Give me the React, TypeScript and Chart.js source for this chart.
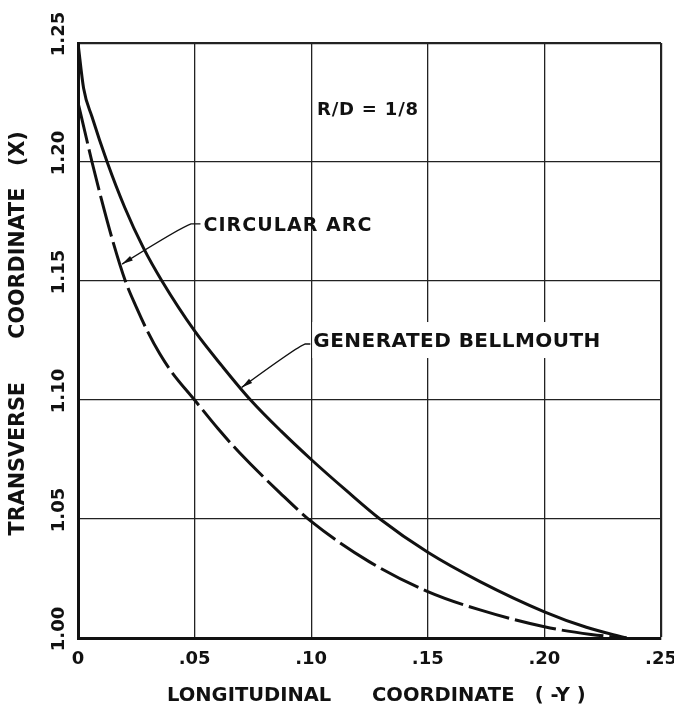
import React, { useEffect, useRef } from "react";
import { Chart, registerables } from "chart.js";

Chart.register(...registerables);

// ---------- data ----------
const xTickValues = [0, 0.05, 0.1, 0.15, 0.2, 0.25];
const xTickLabels = ["0", ".05", ".10", ".15", ".20", ".25"];
const yTickValues = [1.0, 1.05, 1.1, 1.15, 1.2, 1.25];
const yTickLabels = ["1.00", "1.05", "1.10", "1.15", "1.20", "1.25"];

// Generated bellmouth (solid)
const bellmouthX = [0, 0.0024, 0.006, 0.0125, 0.02, 0.028, 0.036, 0.05, 0.062, 0.074, 0.087, 0.1, 0.115, 0.1295, 0.15, 0.1724, 0.2, 0.218, 0.2353];
const bellmouthY = [1.25, 1.231, 1.219, 1.2, 1.181, 1.164, 1.15, 1.129, 1.114, 1.1, 1.087, 1.075, 1.062, 1.05, 1.036, 1.0237, 1.011, 1.0045, 1.0];

// Circular arc (dashed)
const arcX = [0, 0.003, 0.006, 0.01, 0.015, 0.0203, 0.025, 0.03, 0.035, 0.04, 0.05, 0.06, 0.0695, 0.0866, 0.1, 0.125, 0.15, 0.1724, 0.2, 0.22, 0.235];
const arcY = [1.225, 1.2125, 1.2, 1.1845, 1.1665, 1.15, 1.139, 1.1285, 1.1195, 1.112, 1.1, 1.088, 1.0776, 1.061, 1.049, 1.032, 1.0195, 1.0118, 1.0047, 1.0015, 1.0];

const xTitle = "  LONGITUDINAL      COORDINATE   ( -Y )";
const yTitle = "  TRANSVERSE      COORDINATE   (X)";
const ratioLabel = "R/D = 1/8";
const arcLabel = "CIRCULAR ARC";
const bellLabel = "GENERATED BELLMOUTH";

// ---------- styling / annotation placement ----------
const FONT = '"DejaVu Sans", sans-serif';
const INK = "#111111";

const annotationPlacement = {
  ratio: { x: 0.1025, y: 1.2225, size: 18, width: 101 },
  arc: { x: 0.0538, y: 1.1738, size: 19, width: 168, elbow: [0.0485, 1.174], tip: [0.0189, 1.1571] },
  bell: { x: 0.1009, y: 1.1252, size: 20, width: 287, elbow: [0.0973, 1.1235], tip: [0.0702, 1.1053] },
};

function drawLabel(ctx: CanvasRenderingContext2D, text: string, left: number, cy: number, size: number, target: number) {
  ctx.font = `bold ${size}px ${FONT}`;
  (ctx as any).letterSpacing = "0px";
  const natural = ctx.measureText(text).width;
  const sp = text.length > 1 ? (target - natural) / (text.length - 1) : 0;
  (ctx as any).letterSpacing = `${sp}px`;
  ctx.textAlign = "left";
  ctx.textBaseline = "alphabetic";
  ctx.fillText(text, left, cy + (size * 0.729) / 2);
  (ctx as any).letterSpacing = "0px";
}

function drawLeader(ctx: CanvasRenderingContext2D, sx: number, sy: number, ex: number, ey: number, tx: number, ty: number) {
  ctx.beginPath();
  ctx.moveTo(sx, sy);
  ctx.lineTo(ex, ey);
  const cx = ex - (ex - tx) * 0.12;
  const cy = ey + (ty - ey) * 0.06;
  ctx.quadraticCurveTo(cx, cy, tx, ty);
  ctx.lineWidth = 1.4;
  ctx.stroke();
  // arrowhead
  const ang = Math.atan2(ty - cy, tx - cx);
  const len = 11;
  const hw = 2.6;
  const bx = tx - Math.cos(ang) * len;
  const by = ty - Math.sin(ang) * len;
  ctx.beginPath();
  ctx.moveTo(tx, ty);
  ctx.lineTo(bx - Math.sin(ang) * hw, by + Math.cos(ang) * hw);
  ctx.lineTo(bx + Math.sin(ang) * hw, by - Math.cos(ang) * hw);
  ctx.closePath();
  ctx.fill();
}

const annotationPlugin = {
  id: "bellmouthAnnotations",
  afterDatasetsDraw(chart: any) {
    const ctx: CanvasRenderingContext2D = chart.ctx;
    const xs = chart.scales.x;
    const ys = chart.scales.y;
    const px = (v: number) => xs.getPixelForValue(v);
    const py = (v: number) => ys.getPixelForValue(v);
    const a = annotationPlacement;
    ctx.save();
    ctx.strokeStyle = INK;

    // white break in the grid behind the bellmouth label
    ctx.fillStyle = "#ffffff";
    ctx.fillRect(px(a.bell.x) - 1, py(a.bell.y) - 18, a.bell.width + 6, 36);
    ctx.fillStyle = INK;

    drawLabel(ctx, ratioLabel, px(a.ratio.x), py(a.ratio.y), a.ratio.size, a.ratio.width);
    drawLabel(ctx, arcLabel, px(a.arc.x), py(a.arc.y), a.arc.size, a.arc.width);
    drawLabel(ctx, bellLabel, px(a.bell.x), py(a.bell.y), a.bell.size, a.bell.width);

    drawLeader(ctx, px(a.arc.x) - 3, py(a.arc.elbow[1]), px(a.arc.elbow[0]), py(a.arc.elbow[1]), px(a.arc.tip[0]), py(a.arc.tip[1]));
    drawLeader(ctx, px(a.bell.x) - 3, py(a.bell.elbow[1]), px(a.bell.elbow[0]), py(a.bell.elbow[1]), px(a.bell.tip[0]), py(a.bell.tip[1]));
    ctx.restore();
  },
};

export default function App() {
  const canvasRef = useRef<HTMLCanvasElement | null>(null);

  useEffect(() => {
    document.body.style.margin = "0";
    const canvas = canvasRef.current;
    if (!canvas) return;

    const chart = new Chart(canvas, {
      type: "line",
      data: {
        datasets: [
          {
            label: "Generated bellmouth",
            data: bellmouthX.map((x, i) => ({ x, y: bellmouthY[i] })),
            borderColor: INK,
            borderWidth: 3,
            pointRadius: 0,
            fill: false,
            cubicInterpolationMode: "monotone",
          },
          {
            label: "Circular arc",
            data: arcX.map((x, i) => ({ x, y: arcY[i] })),
            borderColor: INK,
            borderWidth: 3,
            borderDash: [42, 6],
            borderCapStyle: "butt",
            pointRadius: 0,
            fill: false,
            cubicInterpolationMode: "monotone",
          },
        ],
      },
      options: {
        responsive: false,
        animation: false,
        devicePixelRatio: 1,
        layout: { padding: { top: 43, right: 0, bottom: 0, left: 0 } },
        plugins: { legend: { display: false }, tooltip: { enabled: false } },
        scales: {
          x: {
            type: "linear",
            min: 0,
            max: 0.25,
            afterBuildTicks: (s: any) => {
              s.ticks = xTickValues.map((v) => ({ value: v }));
            },
            afterFit: (s: any) => {
              s.height = 68;
              s.paddingLeft = 0;
              s.paddingRight = 13;
            },
            ticks: {
              callback: (_v: any, i: number) => xTickLabels[i],
              font: { family: FONT, size: 18, weight: "bold" },
              color: INK,
              padding: 11,
              maxRotation: 0,
              autoSkip: false,
            },
            grid: {
              color: "#222222",
              lineWidth: (c: any) => (c.tick && c.tick.value === 0.25 ? 2.2 : 1.3),
              drawTicks: false,
            },
            border: { color: INK, width: 3 },
            title: {
              display: true,
              text: xTitle,
              color: INK,
              font: { family: FONT, size: 19.5, weight: "bold", lineHeight: 1 },
              padding: { top: 0, bottom: 0 },
            },
          },
          y: {
            type: "linear",
            min: 1.0,
            max: 1.25,
            afterBuildTicks: (s: any) => {
              s.ticks = yTickValues.map((v) => ({ value: v }));
            },
            afterFit: (s: any) => {
              s.width = 78;
              s.paddingTop = 0;
              s.paddingBottom = 0;
            },
            ticks: {
              callback: (_v: any, i: number) => yTickLabels[i],
              font: { family: FONT, size: 18, weight: "bold" },
              color: INK,
              padding: -4,
              minRotation: 90,
              maxRotation: 90,
              crossAlign: "center",
              labelOffset: -9,
              autoSkip: false,
            },
            grid: {
              color: "#222222",
              lineWidth: (c: any) => (c.tick && c.tick.value === 1.25 ? 2.2 : 1.3),
              drawTicks: false,
            },
            border: { color: INK, width: 3 },
            title: {
              display: true,
              text: yTitle,
              color: INK,
              font: { family: FONT, size: 20.7, weight: "bold", lineHeight: 1 },
              padding: { top: 8, bottom: 0 },
            },
          },
        },
      },
      plugins: [annotationPlugin],
    } as any);

    return () => {
      chart.destroy();
    };
  }, []);

  return (
    <div style={{ width: 674, height: 706 }}>
      <canvas ref={canvasRef} width={674} height={706} style={{ display: "block" }} />
    </div>
  );
}
